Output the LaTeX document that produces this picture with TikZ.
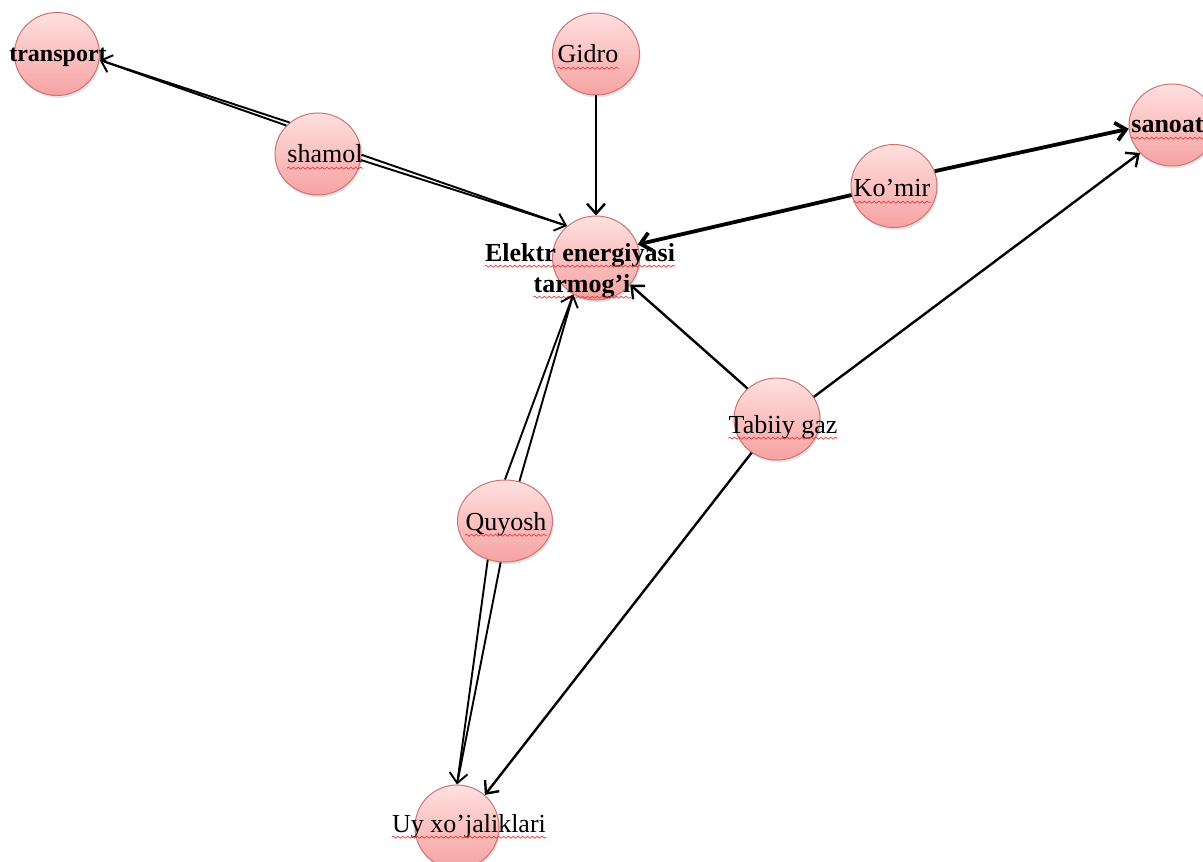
\documentclass[tikz,border=0pt]{standalone}
\usepackage{fontspec}
\setmainfont{Liberation Serif}
\usetikzlibrary{arrows.meta,shapes.geometric,shadows,decorations.pathmorphing}
\definecolor{nodetop}{RGB}{255,224,224}
\definecolor{nodebot}{RGB}{246,162,162}
\definecolor{nodeline}{RGB}{205,115,115}
\definecolor{wavecol}{RGB}{235,60,60}
\begin{document}
\begin{tikzpicture}[x=0.5pt,y=-0.5pt,
  bubble/.style={ellipse, inner sep=0pt, draw=nodeline, line width=0.5pt,
    top color=nodetop, bottom color=nodebot,
    drop shadow={shadow xshift=0.6pt,shadow yshift=-1.2pt,opacity=0.22}},
  lbl/.style={inner sep=0pt, anchor=base, font=\fontsize{13}{15}\selectfont},
  blbl/.style={inner sep=0pt, anchor=base, font=\fontsize{13}{15}\selectfont\bfseries},
  wav/.style={draw=wavecol, line width=0.35pt, decorate,
    decoration={snake, amplitude=0.5pt, segment length=2.4pt}},
  tip/.style={-{Straight Barb[length=5pt,width=9pt]}},
  link/.style={tip, line width=1.2pt},
  heavylink/.style={tip, line width=1.9pt},
  dbla/.style={tip, line width=0.95pt},
  dbl/.style={line width=0.95pt, shorten >=2.5pt}
]
\useasboundingbox (0,0) rectangle (1203,861);
\fill[white] (0,0) rectangle (1203,861);
\clip (0,0) rectangle (1203,861);

% bubbles
\node[bubble, minimum width=42.5pt, minimum height=41.5pt] (transport) at (57,54) {};
\node[bubble, minimum width=43.5pt, minimum height=41pt] (gidro) at (596,54) {};
\node[bubble, minimum width=43pt, minimum height=41pt] (shamol) at (318,154) {};
\node[bubble, minimum width=43pt, minimum height=41pt] (sanoat) at (1172,125) {};
\node[bubble, minimum width=43pt, minimum height=41.5pt] (komir) at (894,186) {};
\node[bubble, minimum width=43.5pt, minimum height=42pt] (elektr) at (596,258) {};
\node[bubble, minimum width=43pt, minimum height=41pt] (tabiiy) at (777,419) {};
\node[bubble, minimum width=47.5pt, minimum height=41pt] (quyosh) at (505,521) {};
\node[bubble, minimum width=42pt, minimum height=42pt] (uy) at (457,827) {};

% labels
\node[blbl, font=\fontsize{12}{14}\selectfont\bfseries] (transportT) at (58,62) {transport};
\node[lbl] (gidroT) at (588,63) {Gidro};
\node[lbl] (shamolT) at (325,163) {shamol};
\node[lbl] (komirT) at (892,197) {Ko’mir};
\node[blbl, anchor=base west] (sanoatT) at (1131,133) {sanoat};
\node[blbl] (elektrA) at (580,261) {Elektr energiyasi};
\node[blbl] (elektrB) at (582,292) {tarmog’i};
\node[lbl] (tabiiyT) at (783,433) {Tabiiy gaz};
\node[lbl] (quyoshT) at (506,530) {Quyosh};
\node[lbl] (uyT) at (469,832) {Uy xo’jaliklari};

% spell-check underlines
\foreach \t in {gidroT,shamolT,komirT,sanoatT,elektrA,elektrB,tabiiyT,quyoshT,uyT}{
  \draw[wav] ([yshift=-2.6pt]\t.base west) -- ([yshift=-2.6pt]\t.base east);
}

% connectors
\draw[dbla] (shamol.138) -- (transport.-8);
\draw[dbl]  (shamol.132) -- (transport.-8);
\draw[dbla] (shamol.-1) -- (elektr.132);
\draw[dbl]  (shamol.-8) -- (elektr.132);
\draw[link] (gidro.-90) -- (elektr.90);
\draw[heavylink] (komir.20) -- (sanoat.185);
\draw[heavylink] (komir.192) -- (elektr.18);
\draw[link] (tabiiy.134) -- (elektr.-38);
\draw[link] (tabiiy.31) -- (sanoat.221);
\draw[link] (tabiiy.233) -- (uy.49);
\draw[dbla] (quyosh.90) -- (elektr.238);
\draw[dbl]  (quyosh.70) -- (elektr.238);
\draw[dbla] (quyosh.246) -- (uy.90);
\draw[dbl]  (quyosh.264) -- (uy.90);
\end{tikzpicture}
\end{document}
